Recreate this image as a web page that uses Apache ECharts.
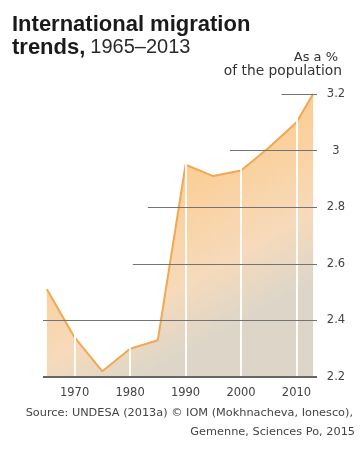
<!DOCTYPE html>
<html>
<head>
<meta charset="utf-8">
<script src="https://cdn.jsdelivr.net/npm/echarts@6/dist/echarts.min.js"></script>
<style>
html,body{margin:0;padding:0;background:#fff;}
#c{width:361px;height:450px;}
</style>
</head>
<body>
<div id="c"></div>
<script>
// Data
const years = [1965, 1970, 1975, 1980, 1985, 1990, 1995, 2000, 2005, 2010, 2013];
const share = [2.51, 2.34, 2.22, 2.30, 2.33, 2.95, 2.91, 2.93, 3.01, 3.10, 3.20];
const xTicks = [1970, 1980, 1990, 2000, 2010];
const yTicks = [2.2, 2.4, 2.6, 2.8, 3.0, 3.2];
// where each horizontal reference line starts (in years)
const gridStart = [1964.3, 1964.3, 1980.5, 1983.2, 1998, 2007.3];

const xMin = 1964.3, xMax = 2013.7;

const chart = echarts.init(document.getElementById('c'), null, {renderer: 'canvas'});

const smallFont = 'DejaVu Sans';

const hLines = yTicks.map((v, i) => [
  {coord: [gridStart[i], v], lineStyle: {color: v === 2.2 ? '#666666' : '#737373', width: v === 2.2 ? 2 : 1, type: 'solid'}},
  {coord: [xMax, v]}
]);

chart.setOption({
  animation: false,
  backgroundColor: '#fff',
  title: [
    {
      left: 12, top: 13, padding: 0,
      text: '{b|International migration}\n{b|trends,} {r|1965–2013}',
      textStyle: {
        rich: {
          b: {fontFamily: 'Liberation Sans', fontWeight: 'bold', fontSize: 22, color: '#1a1a1a', lineHeight: 23},
          r: {fontFamily: 'Liberation Sans', fontWeight: 'normal', fontSize: 20, color: '#2a2a2a', lineHeight: 23}
        }
      }
    }
  ],
  graphic: [
    {type: 'text', right: 23, top: 51, style: {text: 'As a %', font: '13px "DejaVu Sans"', fill: '#333'}},
    {type: 'text', right: 19, top: 64, style: {text: 'of the population', font: '13.8px "DejaVu Sans"', fill: '#333'}},
    {type: 'text', right: 8, top: 408, style: {text: 'Source: UNDESA (2013a) © IOM (Mokhnacheva, Ionesco),', font: '11.3px "DejaVu Sans"', fill: '#444'}},
    {type: 'text', right: 6, top: 427, style: {text: 'Gemenne, Sciences Po, 2015', font: '11.3px "DejaVu Sans"', fill: '#444'}}
  ],
  grid: {left: 43, right: 44, top: 94, bottom: 73},
  xAxis: {
    type: 'value',
    min: xMin, max: xMax,
    axisLine: {show: false},
    axisTick: {show: false},
    splitLine: {show: false},
    axisLabel: {
      customValues: xTicks,
      fontFamily: smallFont, fontSize: 11.5, color: '#444', margin: 10,
      formatter: v => String(v)
    }
  },
  yAxis: {
    type: 'value',
    position: 'right',
    min: 2.2, max: 3.2, interval: 0.2,
    axisLine: {show: false},
    axisTick: {show: false},
    splitLine: {show: false},
    axisLabel: {
      fontFamily: smallFont, fontSize: 11.5, color: '#444', margin: 19, align: 'center',
      formatter: v => (Math.round(v * 10) / 10).toString()
    }
  },
  series: [
    {
      type: 'line',
      data: years.map((y, i) => [y, share[i]]),
      symbol: 'none',
      z: 2,
      lineStyle: {color: '#f0a854', width: 2},
      areaStyle: {
        origin: 'start',
        opacity: 1,
        color: {
          type: 'linear', x: 0, y: 0, x2: 0.6, y2: 1,
          colorStops: [
            {offset: 0, color: '#fbc98a'},
            {offset: 0.45, color: '#fbcf98'},
            {offset: 0.72, color: '#f6dabb'},
            {offset: 0.9, color: '#ddd6c8'},
            {offset: 1, color: '#dcd5c8'}
          ]
        }
      }
    },
    {
      type: 'line',
      data: [],
      z: 3,
      markLine: {
        silent: true, symbol: 'none', animation: false,
        label: {show: false},
        lineStyle: {color: '#ffffff', width: 2, type: 'solid', opacity: 0.9},
        data: xTicks.map(x => ({xAxis: x}))
      }
    },
    {
      type: 'line',
      data: [],
      z: 4,
      markLine: {
        silent: true, symbol: 'none', animation: false,
        label: {show: false},
        lineStyle: {color: '#737373', width: 1, type: 'solid'},
        data: hLines
      }
    }
  ]
});
</script>
</body>
</html>
